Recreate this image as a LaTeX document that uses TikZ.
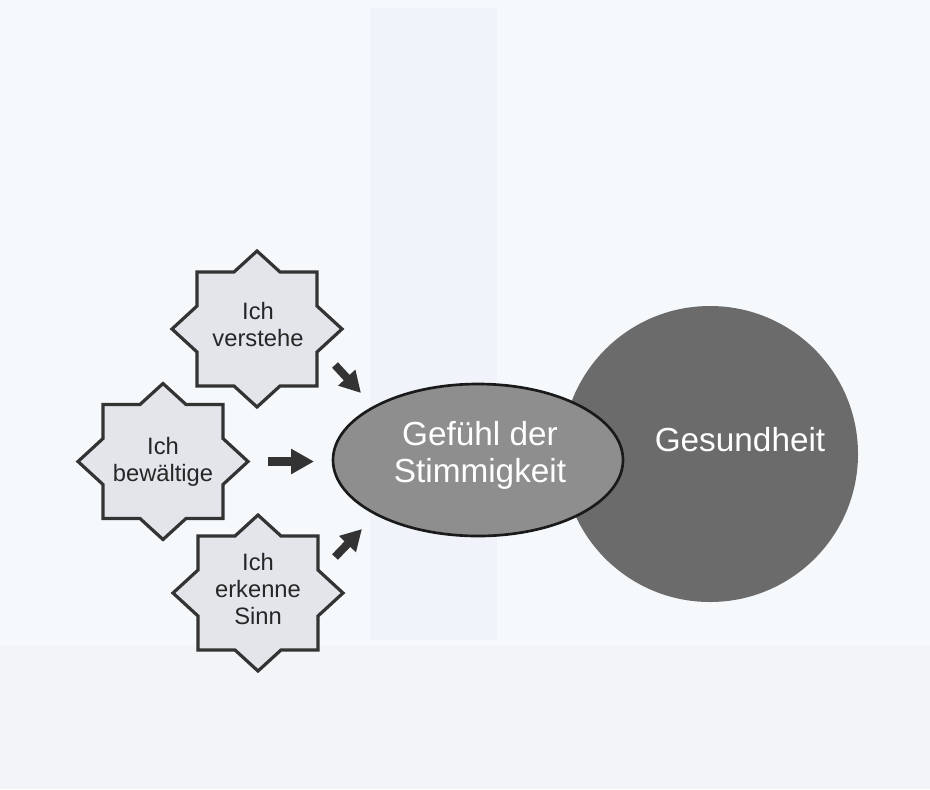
\documentclass[tikz,border=0pt]{standalone}
\usepackage{fontspec}
\setmainfont{Liberation Sans}
\usetikzlibrary{shapes.geometric,arrows.meta}
\definecolor{bgbase}{HTML}{F6F9FC}
\definecolor{bgband}{HTML}{F0F4FA}
\definecolor{bgbottom}{HTML}{F2F4F7}
\definecolor{starfill}{HTML}{E3E5EB}
\definecolor{starline}{HTML}{333333}
\definecolor{ellfill}{HTML}{8E8E8E}
\definecolor{ellline}{HTML}{1A1A1A}
\definecolor{circfill}{HTML}{6B6B6B}
\definecolor{arrowcol}{HTML}{333333}
\tikzset{
  starbox/.style={draw=starline, fill=starfill, line width=2.4pt, line join=miter},
  startext/.style={align=center, inner sep=0pt, text=black!85,
    font=\fontsize{17.8pt}{20.25pt}\selectfont},
  ellbox/.style={ellipse, draw=ellline, fill=ellfill, line width=2pt,
    minimum width=217.5pt, minimum height=114pt, inner sep=0pt},
  circbox/.style={circle, fill=circfill, minimum size=222pt, inner sep=0pt},
  bigtext/.style={align=center, inner sep=0pt, text=white,
    font=\fontsize{25pt}{27.75pt}\selectfont},
  blockarrow/.style={draw=arrowcol, line width=6.75pt,
    -{Triangle[width=18pt,length=17.25pt]}},
  diagarrow/.style={draw=arrowcol, line width=6pt,
    -{Triangle[width=16.5pt,length=15.75pt]}}
}
\newcommand\starshape[2]{%
  \draw[starbox,shift={(#1,#2)}]
    (85,0) -- (60,23) -- (60,57) -- (23,57) -- (0,78) -- (-23,57) --
    (-60,57) -- (-60,23) -- (-85,0) -- (-60,-23) -- (-60,-57) --
    (-23,-57) -- (0,-78) -- (23,-57) -- (60,-57) -- (60,-23) -- cycle;}
\begin{document}
\begin{tikzpicture}[x=0.75pt,y=-0.75pt]
  % background
  \fill[bgbase] (0,0) rectangle (930,789);
  \useasboundingbox (0,0) rectangle (930,789);
  \fill[bgband] (370,8) rectangle (497,640);
  \fill[bgbottom] (0,645) rectangle (930,789);

  % Gesundheit circle
  \node[circbox] (gesund) at (710,454) {};
  \node[bigtext] (gesundtext) at (740,440) {Gesundheit};

  % ellipse
  \node[ellbox] (gefuehl) at (478,460) {};
  \node[bigtext] (gefuehltext) at (480,455) {Gefühl der\\Stimmigkeit};

  % stars
  \starshape{257}{329}
  \node[startext] (s1) at (258,325) {Ich\\verstehe};
  \starshape{163}{461.5}
  \node[startext] (s2) at (163,461.5) {Ich\\bewältige};
  \starshape{258}{593}
  \node[startext] (s3) at (258,589.5) {Ich\\erkenne\\Sinn};

  % arrows
  \coordinate (a1s) at (335,365);
  \coordinate (a1e) at (361,393);
  \coordinate (a2s) at (268,461.5);
  \coordinate (a2e) at (314,461.5);
  \coordinate (a3s) at (335,557);
  \coordinate (a3e) at (362,529);
  \draw[diagarrow] (a1s) -- (a1e);
  \draw[blockarrow] (a2s) -- (a2e);
  \draw[diagarrow] (a3s) -- (a3e);
\end{tikzpicture}
\end{document}
